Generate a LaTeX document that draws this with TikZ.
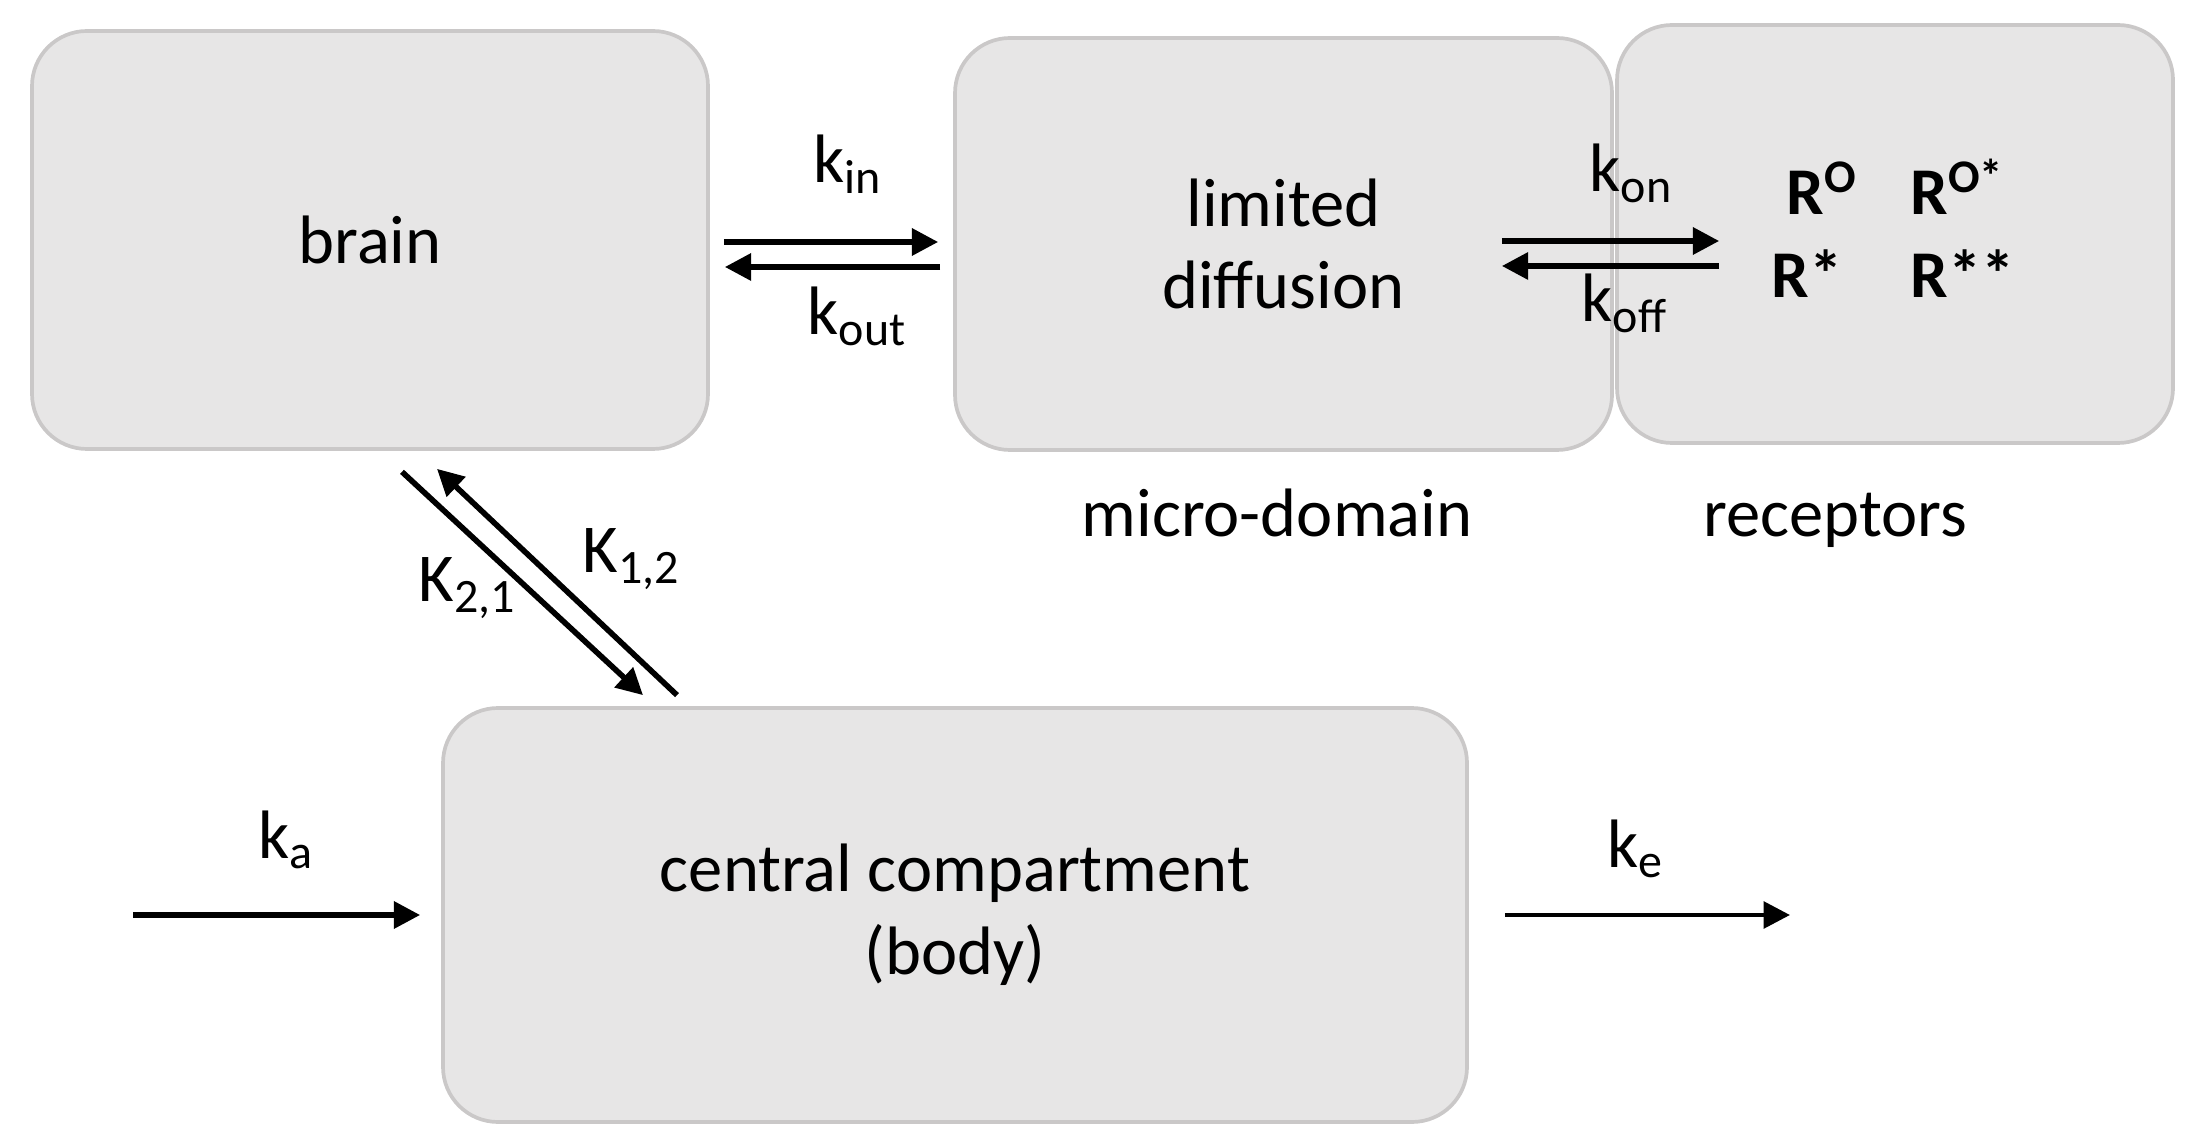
\documentclass[tikz,border=0pt]{standalone}
\usepackage{fontspec}
\setmainfont{Carlito}
\usepackage{tikz}
\usetikzlibrary{arrows.meta,positioning}
\definecolor{BoxFill}{HTML}{E7E6E6}
\definecolor{BoxEdge}{HTML}{CAC8C8}
\newcommand{\rate}[2]{#1\textsubscript{#2}}

\begin{document}
\begin{tikzpicture}[font=\fontsize{19.5}{23.5}\selectfont,
  comp/.style={draw=BoxEdge, fill=BoxFill, line width=1.05pt, rounded corners=0.55cm, align=center},
  flow/.style={line width=1.6pt, -{Triangle[length=7.5pt,width=7.5pt]}},
  lbl/.style={anchor=base west, inner sep=0pt},
  recstate/.style={anchor=base west, inner sep=0pt, font=\fontsize{19}{22}\selectfont\bfseries}]
  \useasboundingbox (0,0) rectangle (21.98,-11.47);
  % compartments
  \node[comp, minimum width=6.76cm, minimum height=4.18cm] (brain) at (3.70,-2.40) {brain};
  \node[comp, minimum width=6.57cm, minimum height=4.12cm] (micro) at (12.835,-2.44) {limited\\diffusion};
  \node[comp, minimum width=5.56cm, minimum height=4.18cm] (recep) at (18.95,-2.34) {};
  \node[comp, minimum width=10.24cm, minimum height=4.14cm] (central) at (9.55,-9.15) {central compartment\\(body)};
  \node[anchor=base] (mdlbl) at (12.77,-5.37) {micro-domain};
  \node[anchor=base] (rclbl) at (18.35,-5.37) {receptors};
  % receptor states
  \node[recstate] (r0) at (17.86,-2.15) {R\textsuperscript{O}};
  \node[recstate] (r0s) at (19.10,-2.15) {R\textsuperscript{O*}};
  \node[recstate] (rs) at (17.71,-2.98) {R*};
  \node[recstate] (rss) at (19.10,-2.98) {R**};
  % brain <-> micro-domain
  \draw[flow] ([xshift=1.4mm,yshift=-0.2mm]brain.east) -- ([xshift=-1.5mm,yshift=-0.2mm]brain.east -| micro.west);
  \draw[flow] ([xshift=-1.3mm,yshift=-2.7mm]brain.east -| micro.west) -- ([xshift=1.5mm,yshift=-2.7mm]brain.east);
  \node[lbl] (kin) at (8.13,-1.83) {\rate{k}{in}};
  \node[lbl] (kout) at (8.07,-3.35) {\rate{k}{out}};
  % micro-domain <-> receptors
  \draw[flow] ([xshift=-11.2mm,yshift=0.3mm]micro.east) -- ([xshift=10.4mm,yshift=0.3mm]micro.east -| recep.west);
  \draw[flow] ([xshift=10.4mm,yshift=-2.2mm]micro.east -| recep.west) -- ([xshift=-11.2mm,yshift=-2.2mm]micro.east);
  \node[lbl] (kon) at (15.89,-1.92) {\rate{k}{on}};
  \node[lbl] (koff) at (15.81,-3.22) {\rate{k}{off}};
  % brain <-> central
  \draw[flow] ([xshift=3.2mm,yshift=-2.1mm]brain.south) -- ([xshift=-31.2mm,yshift=1.1mm]central.north);
  \draw[flow] ([xshift=-27.8mm,yshift=1.1mm]central.north) -- ([xshift=6.7mm,yshift=-1.8mm]brain.south);
  \node[lbl] (k21) at (4.18,-6.02) {\rate{K}{2,1}};
  \node[lbl] (k12) at (5.82,-5.73) {\rate{K}{1,2}};
  % absorption and elimination
  \coordinate (dose) at (1.33,-9.15);
  \coordinate (elim) at (17.90,-9.15);
  \draw[flow] (dose) -- ([xshift=-2.1mm]central.west);
  \draw[flow, line width=1.3pt] ([xshift=3.6mm]central.east) -- (elim);
  \node[lbl] (ka) at (2.58,-8.58) {\rate{k}{a}};
  \node[lbl] (ke) at (16.07,-8.67) {\rate{k}{e}};
\end{tikzpicture}
\end{document}
